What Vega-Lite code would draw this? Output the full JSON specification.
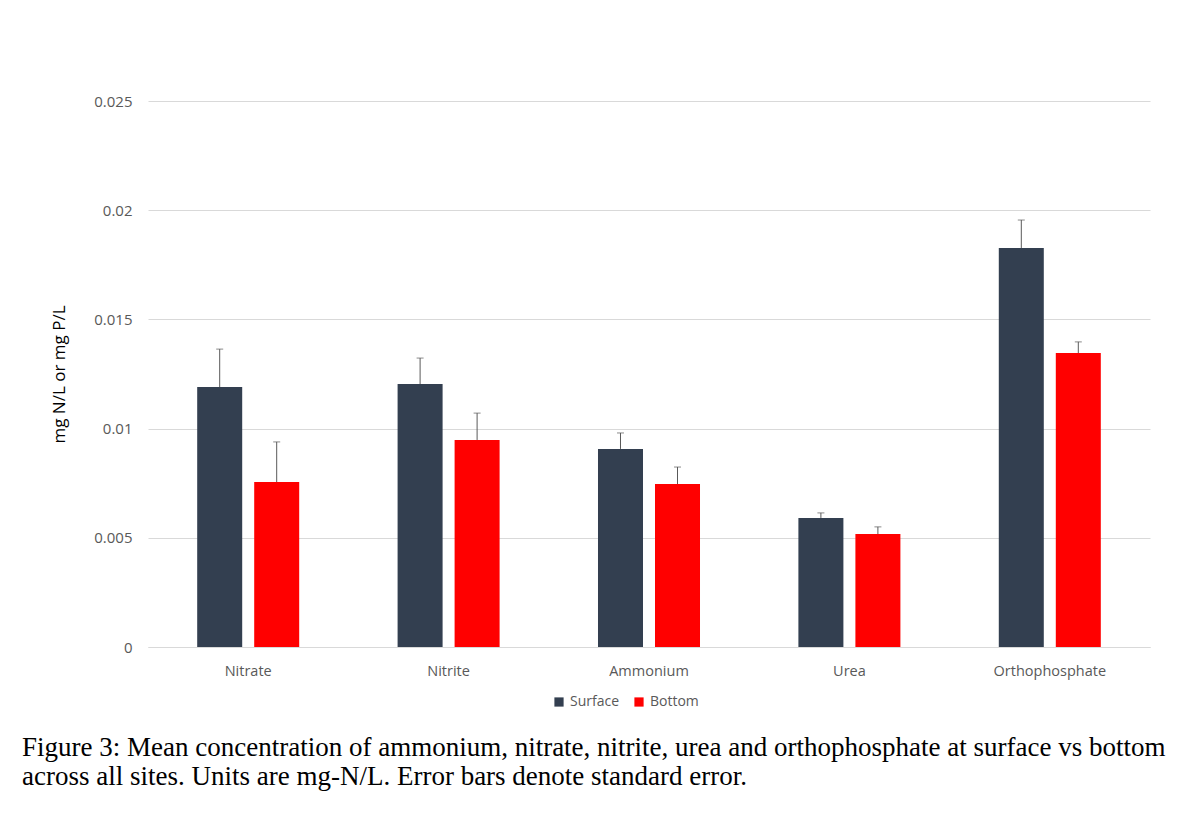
{
  "$schema": "https://vega.github.io/schema/vega-lite/v6.json",
  "width": 1002,
  "height": 546,
  "autosize": {"type": "none"},
  "padding": {"left": 148, "top": 101, "right": 54, "bottom": 175},
  "background": "white",
  "config": {
    "view": {"stroke": null},
    "font": "Open Sans",
    "axis": {"labelFont": "Open Sans", "titleFont": "Open Sans"}
  },
  "title": {
    "text": ["Figure 3: Mean concentration of ammonium, nitrate, nitrite, urea and orthophosphate at surface vs bottom", "across all sites.  Units are mg-N/L.  Error bars denote standard error."],
    "orient": "bottom",
    "anchor": "start",
    "frame": "group",
    "dx": -126,
    "offset": 26,
    "font": "Liberation Serif",
    "fontSize": 27,
    "fontWeight": "normal",
    "color": "black",
    "lineHeight": 29,
    "align": "left"
  },
  "data": {
    "values": [
      {"nutrient": "Nitrate", "position": "Surface", "value": 0.0119, "upper": 0.01364},
      {"nutrient": "Nitrate", "position": "Bottom", "value": 0.00755, "upper": 0.00939},
      {"nutrient": "Nitrite", "position": "Surface", "value": 0.01204, "upper": 0.01323},
      {"nutrient": "Nitrite", "position": "Bottom", "value": 0.00948, "upper": 0.01071},
      {"nutrient": "Ammonium", "position": "Surface", "value": 0.00907, "upper": 0.0098},
      {"nutrient": "Ammonium", "position": "Bottom", "value": 0.00746, "upper": 0.00824},
      {"nutrient": "Urea", "position": "Surface", "value": 0.00591, "upper": 0.00614},
      {"nutrient": "Urea", "position": "Bottom", "value": 0.00517, "upper": 0.0055},
      {"nutrient": "Orthophosphate", "position": "Surface", "value": 0.01827, "upper": 0.01955},
      {"nutrient": "Orthophosphate", "position": "Bottom", "value": 0.01346, "upper": 0.01397}
    ]
  },
  "encoding": {
    "x": {
      "field": "nutrient",
      "type": "nominal",
      "sort": ["Nitrate", "Nitrite", "Ammonium", "Urea", "Orthophosphate"],
      "scale": {"paddingInner": 0, "paddingOuter": 0},
      "axis": {
        "title": null,
        "labelAngle": 0,
        "ticks": false,
        "domainColor": "#D9D9D9",
        "labelColor": "#595959",
        "labelFontSize": 14.5,
        "labelPadding": 17
      }
    },
    "xOffset": {
      "field": "position",
      "type": "nominal",
      "sort": ["Surface", "Bottom"],
      "scale": {"paddingInner": 0.2105, "paddingOuter": 0.863}
    }
  },
  "layer": [
    {
      "mark": {"type": "bar"},
      "encoding": {
        "y": {
          "field": "value",
          "type": "quantitative",
          "scale": {"domain": [0, 0.025], "nice": false},
          "axis": {
            "title": "mg N/L or mg P/L",
            "titleFontSize": 17,
            "titleFontWeight": "normal",
            "titleColor": "black",
            "titlePadding": 25,
            "values": [0, 0.005, 0.01, 0.015, 0.02, 0.025],
            "format": "~g",
            "labelColor": "#595959",
            "labelFontSize": 15,
            "labelPadding": 16,
            "ticks": false,
            "domain": false,
            "gridColor": "#D9D9D9",
            "gridWidth": 1
          }
        },
        "color": {
          "field": "position",
          "type": "nominal",
          "sort": ["Surface", "Bottom"],
          "scale": {"domain": ["Surface", "Bottom"], "range": ["#333F50", "#FF0000"]},
          "legend": {
            "title": null,
            "orient": "none",
            "direction": "horizontal",
            "legendX": 404,
            "legendY": 594,
            "symbolType": "square",
            "symbolSize": 85,
            "symbolStrokeWidth": 0,
            "labelFontSize": 14,
            "labelColor": "#595959",
            "labelFont": "Open Sans",
            "columnPadding": 12,
            "labelOffset": 4
          }
        }
      }
    },
    {
      "mark": {"type": "rule", "color": "#595959", "strokeWidth": 1},
      "encoding": {
        "y": {"field": "value", "type": "quantitative"},
        "y2": {"field": "upper"}
      }
    },
    {
      "mark": {"type": "tick", "color": "#595959", "thickness": 1, "size": 7, "orient": "horizontal"},
      "encoding": {
        "y": {"field": "upper", "type": "quantitative"}
      }
    }
  ]
}
